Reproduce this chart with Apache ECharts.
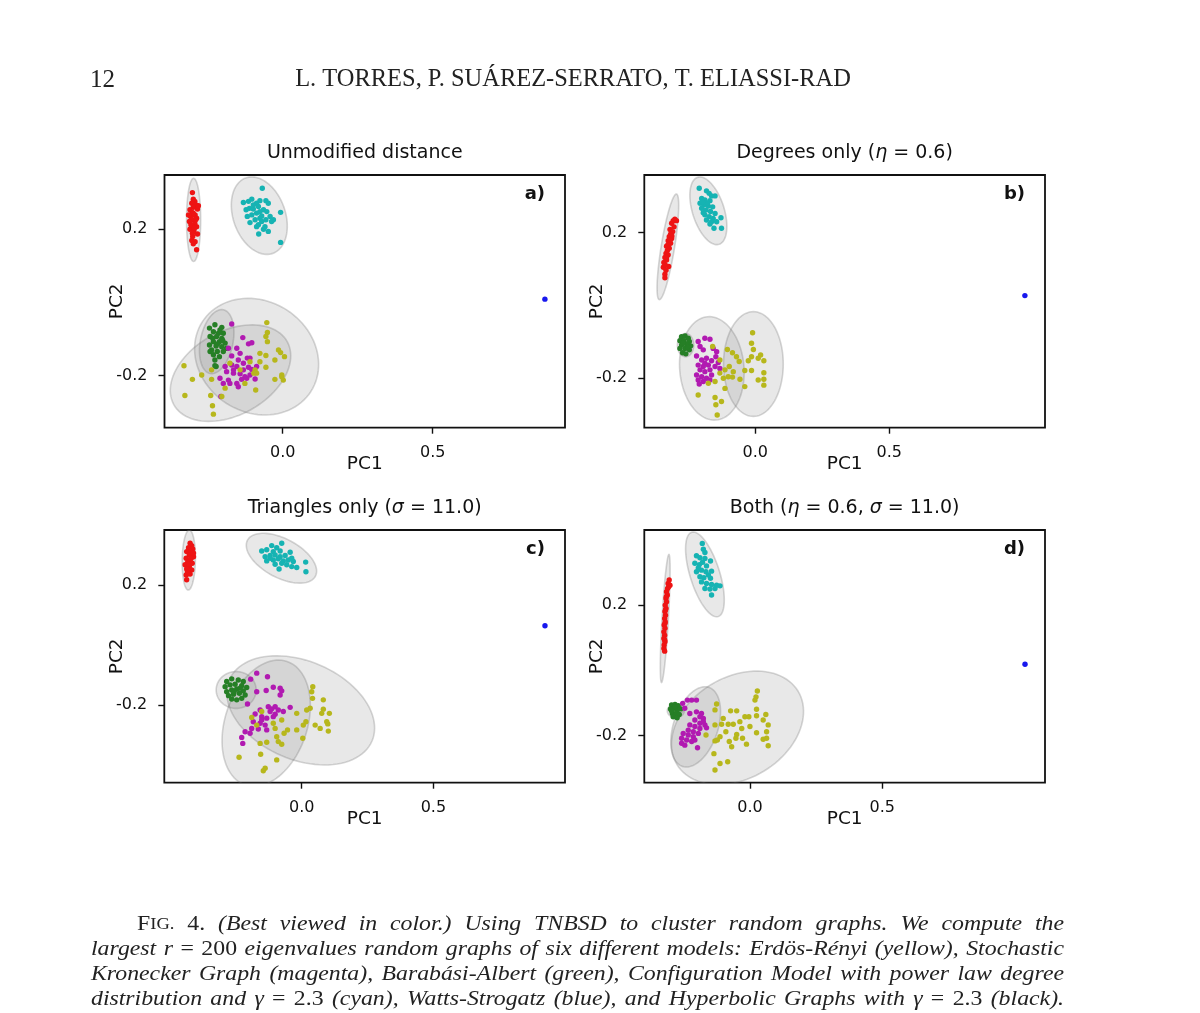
<!DOCTYPE html>
<html><head><meta charset="utf-8">
<script src="https://cdn.jsdelivr.net/npm/echarts@6/dist/echarts.min.js"></script>
<style>html,body{margin:0;padding:0;background:#fff}#c{width:1200px;height:1013px}</style>
</head><body><div id="c"></div>
<script>
// ---------- tick values / labels ----------
const xTicks = [0.0, 0.5];
const yTicks = [-0.2, 0.2];
const panelTitles = ['Unmodified distance', 'Degrees only (η = 0.6)', 'Triangles only (σ = 11.0)', 'Both (η = 0.6, σ = 11.0)'];
const panelTags = ['a)', 'b)', 'c)', 'd)'];
const xRanges = [[-0.394, 0.941], [-0.414, 1.081], [-0.522, 1.000], [-0.399, 1.1145]];
const yRanges = [[-0.342, 0.348], [-0.336, 0.3585], [-0.459, 0.383], [-0.344, 0.430]];

// ---------- panel a ----------
const redA = [[-0.301,0.300],[-0.298,0.282],[-0.293,0.276],[-0.303,0.271],[-0.289,0.266],[-0.298,0.260],[-0.309,0.253],[-0.284,0.255],[-0.302,0.246],[-0.292,0.239],[-0.307,0.235],[-0.287,0.230],[-0.300,0.226],[-0.311,0.221],[-0.293,0.216],[-0.303,0.209],[-0.287,0.207],[-0.309,0.200],[-0.296,0.196],[-0.284,0.187],[-0.300,0.180],[-0.303,0.169],[-0.292,0.166],[-0.298,0.160],[-0.287,0.144],[-0.298,0.244],[-0.290,0.226],[-0.306,0.212],[-0.294,0.203],[-0.301,0.189],[-0.281,0.264],[-0.314,0.239]];
const cyanA = [[-0.068,0.312],[-0.131,0.273],[-0.114,0.276],[-0.103,0.282],[-0.087,0.271],[-0.076,0.278],[-0.056,0.278],[-0.048,0.271],[-0.122,0.253],[-0.111,0.257],[-0.098,0.255],[-0.081,0.262],[-0.064,0.253],[-0.053,0.248],[-0.007,0.246],[-0.118,0.235],[-0.103,0.239],[-0.087,0.244],[-0.076,0.230],[-0.092,0.226],[-0.070,0.221],[-0.056,0.226],[-0.042,0.235],[-0.031,0.226],[-0.109,0.218],[-0.081,0.212],[-0.064,0.200],[-0.048,0.194],[-0.080,0.187],[-0.007,0.164],[-0.037,0.221],[-0.098,0.266],[-0.076,0.248],[-0.059,0.207],[-0.087,0.207],[-0.070,0.236]];
const greenA = [[-0.244,-0.070],[-0.226,-0.061],[-0.203,-0.068],[-0.231,-0.080],[-0.214,-0.084],[-0.198,-0.084],[-0.242,-0.093],[-0.220,-0.093],[-0.203,-0.098],[-0.231,-0.107],[-0.211,-0.107],[-0.192,-0.111],[-0.244,-0.116],[-0.222,-0.119],[-0.203,-0.121],[-0.237,-0.130],[-0.218,-0.134],[-0.198,-0.134],[-0.231,-0.143],[-0.211,-0.148],[-0.226,-0.157],[-0.222,-0.175],[-0.187,-0.125],[-0.209,-0.075],[-0.233,-0.098],[-0.217,-0.113],[-0.200,-0.104],[-0.242,-0.134],[-0.226,-0.173]];
const magentaA = [[-0.170,-0.059],[-0.133,-0.096],[-0.114,-0.113],[-0.103,-0.110],[-0.181,-0.125],[-0.153,-0.125],[-0.142,-0.139],[-0.170,-0.146],[-0.148,-0.157],[-0.118,-0.152],[-0.109,-0.152],[-0.192,-0.175],[-0.170,-0.171],[-0.153,-0.175],[-0.131,-0.166],[-0.114,-0.177],[-0.103,-0.183],[-0.087,-0.175],[-0.187,-0.189],[-0.164,-0.193],[-0.142,-0.195],[-0.126,-0.203],[-0.109,-0.198],[-0.209,-0.207],[-0.181,-0.212],[-0.153,-0.221],[-0.137,-0.210],[-0.120,-0.207],[-0.092,-0.209],[-0.198,-0.221],[-0.176,-0.221],[-0.148,-0.230],[-0.206,-0.257],[-0.164,-0.184],[-0.131,-0.184]];
const yellowA = [[-0.053,-0.055],[-0.051,-0.082],[-0.056,-0.093],[-0.051,-0.107],[-0.076,-0.139],[-0.056,-0.145],[-0.014,-0.130],[-0.007,-0.137],[-0.026,-0.157],[0.006,-0.148],[-0.056,-0.177],[-0.087,-0.193],[-0.076,-0.162],[-0.092,-0.184],[-0.003,-0.198],[-0.026,-0.210],[0.002,-0.212],[-0.003,-0.203],[-0.090,-0.239],[-0.329,-0.173],[-0.301,-0.210],[-0.326,-0.254],[-0.240,-0.254],[-0.234,-0.282],[-0.231,-0.305],[-0.270,-0.198],[-0.237,-0.184],[-0.237,-0.210],[-0.192,-0.234],[-0.203,-0.257],[-0.176,-0.166],[-0.142,-0.184],[-0.109,-0.162],[-0.126,-0.221],[-0.096,-0.193]];
const blueA = [[0.874,0.009]];
// ellipse: [centerX, centerY, majorEndX, majorEndY, minor/major ratio]
const ellipsesA = [[-0.297,0.2255,-0.297,0.339,0.17],[-0.078,0.237,-0.123,0.340,0.65],[-0.087,-0.148,0.094,-0.243,0.862],[-0.174,-0.193,0.015,-0.107,0.645],[-0.220,-0.107,-0.198,-0.020,0.5]];

// ---------- panel b ----------
const redB = [[-0.300,0.237],[-0.306,0.233],[-0.294,0.233],[-0.312,0.226],[-0.303,0.216],[-0.318,0.209],[-0.308,0.203],[-0.316,0.196],[-0.321,0.189],[-0.312,0.184],[-0.325,0.178],[-0.316,0.171],[-0.331,0.163],[-0.321,0.157],[-0.328,0.151],[-0.333,0.143],[-0.325,0.139],[-0.337,0.132],[-0.331,0.125],[-0.341,0.118],[-0.323,0.107],[-0.343,0.105],[-0.333,0.097],[-0.337,0.086],[-0.337,0.076],[-0.311,0.191],[-0.326,0.166],[-0.336,0.111],[-0.318,0.180],[-0.331,0.132]];
const cyanB = [[-0.209,0.322],[-0.182,0.315],[-0.172,0.308],[-0.163,0.301],[-0.150,0.301],[-0.200,0.294],[-0.188,0.290],[-0.169,0.288],[-0.206,0.281],[-0.192,0.276],[-0.175,0.273],[-0.159,0.271],[-0.200,0.267],[-0.184,0.262],[-0.167,0.258],[-0.150,0.253],[-0.188,0.249],[-0.172,0.244],[-0.157,0.239],[-0.128,0.241],[-0.182,0.235],[-0.163,0.230],[-0.144,0.230],[-0.169,0.224],[-0.154,0.212],[-0.126,0.212],[-0.194,0.255],[-0.178,0.282],[-0.197,0.285]];
const greenB = [[-0.275,-0.086],[-0.262,-0.084],[-0.250,-0.090],[-0.281,-0.097],[-0.266,-0.097],[-0.246,-0.099],[-0.275,-0.109],[-0.256,-0.106],[-0.241,-0.111],[-0.281,-0.118],[-0.262,-0.118],[-0.246,-0.122],[-0.271,-0.130],[-0.259,-0.133],[-0.269,-0.104],[-0.252,-0.115]];
const magentaB = [[-0.213,-0.099],[-0.188,-0.090],[-0.169,-0.093],[-0.206,-0.113],[-0.194,-0.122],[-0.157,-0.118],[-0.144,-0.127],[-0.219,-0.139],[-0.200,-0.150],[-0.182,-0.145],[-0.163,-0.152],[-0.138,-0.157],[-0.213,-0.164],[-0.194,-0.168],[-0.175,-0.164],[-0.150,-0.168],[-0.132,-0.173],[-0.206,-0.177],[-0.188,-0.182],[-0.169,-0.177],[-0.219,-0.191],[-0.200,-0.196],[-0.182,-0.200],[-0.163,-0.191],[-0.213,-0.205],[-0.194,-0.209],[-0.169,-0.205],[-0.209,-0.216],[-0.147,-0.141],[-0.188,-0.159]];
const yellowB = [[-0.010,-0.075],[-0.014,-0.104],[-0.007,-0.121],[-0.104,-0.121],[-0.085,-0.130],[-0.014,-0.141],[0.020,-0.136],[0.011,-0.145],[0.032,-0.152],[-0.026,-0.152],[-0.060,-0.154],[-0.132,-0.150],[-0.097,-0.168],[-0.082,-0.182],[-0.113,-0.177],[-0.119,-0.200],[-0.101,-0.196],[-0.085,-0.197],[-0.057,-0.203],[-0.039,-0.179],[-0.014,-0.179],[0.032,-0.185],[0.011,-0.205],[0.032,-0.203],[0.032,-0.219],[-0.039,-0.223],[-0.113,-0.228],[-0.150,-0.209],[-0.213,-0.246],[-0.150,-0.253],[-0.126,-0.264],[-0.147,-0.273],[-0.142,-0.301],[-0.159,-0.113],[-0.175,-0.214],[-0.132,-0.186],[-0.070,-0.141]];
const blueB = [[1.006,0.027]];
const ellipsesB = [[-0.326,0.161,-0.294,0.306,0.125],[-0.175,0.260,-0.215,0.352,0.45],[-0.260,-0.109,-0.260,-0.077,0.7],[-0.162,-0.173,-0.178,-0.031,0.62],[-0.007,-0.161,-0.007,-0.017,0.57]];

// ---------- panel c ----------
const redC = [[-0.424,0.339],[-0.418,0.331],[-0.430,0.324],[-0.414,0.320],[-0.437,0.311],[-0.422,0.309],[-0.427,0.300],[-0.411,0.294],[-0.439,0.289],[-0.424,0.283],[-0.433,0.276],[-0.416,0.272],[-0.443,0.267],[-0.427,0.261],[-0.437,0.253],[-0.418,0.250],[-0.430,0.242],[-0.439,0.233],[-0.424,0.236],[-0.437,0.217],[-0.411,0.306],[-0.420,0.289],[-0.429,0.269],[-0.434,0.244]];
const cyanC = [[-0.076,0.339],[-0.114,0.331],[-0.095,0.324],[-0.152,0.313],[-0.133,0.317],[-0.108,0.311],[-0.082,0.313],[-0.044,0.309],[-0.139,0.294],[-0.120,0.298],[-0.101,0.300],[-0.082,0.294],[-0.063,0.298],[-0.133,0.280],[-0.108,0.283],[-0.089,0.287],[-0.070,0.280],[-0.038,0.289],[-0.101,0.269],[-0.076,0.272],[-0.057,0.267],[-0.038,0.261],[-0.019,0.258],[0.015,0.276],[0.016,0.244],[-0.086,0.253],[-0.032,0.278],[-0.120,0.289],[-0.051,0.283]];
const greenC = [[-0.285,-0.122],[-0.266,-0.113],[-0.241,-0.117],[-0.222,-0.122],[-0.291,-0.139],[-0.272,-0.133],[-0.253,-0.131],[-0.228,-0.136],[-0.209,-0.142],[-0.285,-0.156],[-0.266,-0.150],[-0.247,-0.147],[-0.222,-0.153],[-0.278,-0.169],[-0.259,-0.164],[-0.237,-0.161],[-0.215,-0.167],[-0.266,-0.180],[-0.247,-0.183],[-0.228,-0.178],[-0.234,-0.144],[-0.257,-0.156]];
const magentaC = [[-0.171,-0.094],[-0.130,-0.106],[-0.194,-0.114],[-0.108,-0.141],[-0.082,-0.144],[-0.135,-0.152],[-0.171,-0.156],[-0.076,-0.153],[-0.082,-0.167],[-0.206,-0.197],[-0.127,-0.206],[-0.101,-0.206],[-0.089,-0.217],[-0.070,-0.222],[-0.044,-0.208],[-0.158,-0.217],[-0.120,-0.222],[-0.101,-0.231],[-0.177,-0.230],[-0.152,-0.239],[-0.133,-0.244],[-0.108,-0.239],[-0.184,-0.256],[-0.158,-0.261],[-0.139,-0.267],[-0.190,-0.278],[-0.165,-0.280],[-0.133,-0.283],[-0.215,-0.289],[-0.196,-0.294],[-0.228,-0.308],[-0.224,-0.328],[-0.152,-0.250],[-0.114,-0.213]];
const yellowC = [[0.042,-0.139],[0.038,-0.156],[0.082,-0.183],[0.041,-0.178],[0.032,-0.211],[0.082,-0.214],[0.105,-0.228],[-0.019,-0.228],[0.019,-0.217],[0.076,-0.228],[0.095,-0.256],[0.099,-0.263],[0.051,-0.267],[0.070,-0.278],[0.016,-0.256],[0.006,-0.267],[-0.019,-0.283],[-0.054,-0.283],[-0.067,-0.294],[-0.095,-0.306],[-0.089,-0.322],[-0.076,-0.331],[-0.152,-0.222],[-0.108,-0.261],[-0.076,-0.250],[-0.101,-0.278],[-0.158,-0.328],[-0.133,-0.324],[0.004,-0.311],[0.101,-0.287],[-0.238,-0.374],[-0.156,-0.364],[-0.095,-0.383],[-0.139,-0.411],[-0.146,-0.419],[-0.190,-0.242],[-0.171,-0.267]];
const blueC = [[0.924,0.064]];
const ellipsesC = [[-0.429,0.283,-0.427,0.383,0.22],[-0.077,0.289,0.052,0.229,0.507],[-0.249,-0.150,-0.173,-0.150,0.92],[-0.004,-0.218,0.267,-0.320,0.633],[-0.135,-0.261,-0.056,-0.055,0.63]];

// ---------- panel d ----------
const redD = [[-0.305,0.277],[-0.309,0.266],[-0.302,0.261],[-0.311,0.251],[-0.315,0.241],[-0.312,0.231],[-0.317,0.220],[-0.315,0.210],[-0.320,0.200],[-0.317,0.190],[-0.321,0.180],[-0.319,0.169],[-0.322,0.159],[-0.320,0.149],[-0.324,0.139],[-0.321,0.129],[-0.325,0.118],[-0.322,0.108],[-0.325,0.098],[-0.321,0.088],[-0.324,0.078],[-0.325,0.067],[-0.322,0.059],[-0.307,0.256],[-0.316,0.226],[-0.319,0.185],[-0.321,0.144],[-0.322,0.093]];
const cyanD = [[-0.180,0.389],[-0.176,0.371],[-0.170,0.361],[-0.202,0.351],[-0.189,0.345],[-0.170,0.343],[-0.149,0.335],[-0.208,0.328],[-0.191,0.324],[-0.179,0.331],[-0.164,0.320],[-0.202,0.302],[-0.183,0.307],[-0.166,0.302],[-0.145,0.304],[-0.189,0.287],[-0.174,0.284],[-0.149,0.282],[-0.183,0.271],[-0.164,0.266],[-0.145,0.263],[-0.126,0.261],[-0.113,0.259],[-0.170,0.251],[-0.151,0.249],[-0.132,0.251],[-0.145,0.231],[-0.195,0.314],[-0.157,0.292]];
const greenD = [[-0.296,-0.106],[-0.283,-0.104],[-0.271,-0.108],[-0.300,-0.118],[-0.287,-0.116],[-0.275,-0.121],[-0.262,-0.118],[-0.293,-0.132],[-0.280,-0.132],[-0.267,-0.135],[-0.290,-0.142],[-0.275,-0.145],[-0.283,-0.111],[-0.296,-0.124]];
const magentaD = [[-0.254,-0.101],[-0.236,-0.091],[-0.220,-0.091],[-0.202,-0.091],[-0.246,-0.116],[-0.227,-0.132],[-0.202,-0.127],[-0.183,-0.132],[-0.189,-0.142],[-0.176,-0.147],[-0.208,-0.152],[-0.189,-0.162],[-0.170,-0.167],[-0.164,-0.176],[-0.227,-0.167],[-0.208,-0.172],[-0.189,-0.178],[-0.233,-0.183],[-0.214,-0.188],[-0.195,-0.193],[-0.252,-0.193],[-0.233,-0.198],[-0.214,-0.203],[-0.258,-0.208],[-0.239,-0.213],[-0.220,-0.218],[-0.258,-0.223],[-0.246,-0.229],[-0.198,-0.237],[-0.208,-0.213],[-0.176,-0.157]];
const yellowD = [[0.028,-0.063],[0.023,-0.081],[0.019,-0.091],[-0.126,-0.103],[-0.132,-0.121],[-0.073,-0.124],[-0.050,-0.124],[0.025,-0.119],[-0.101,-0.147],[-0.019,-0.142],[-0.004,-0.142],[0.025,-0.139],[0.060,-0.135],[0.050,-0.152],[-0.132,-0.167],[-0.107,-0.165],[-0.082,-0.165],[-0.063,-0.165],[0.069,-0.167],[0.000,-0.172],[0.025,-0.191],[0.063,-0.188],[-0.031,-0.178],[-0.050,-0.196],[-0.053,-0.208],[-0.113,-0.203],[-0.132,-0.216],[-0.123,-0.213],[0.063,-0.208],[0.050,-0.211],[-0.028,-0.208],[-0.013,-0.226],[-0.078,-0.218],[-0.069,-0.234],[0.069,-0.231],[-0.136,-0.255],[-0.113,-0.285],[-0.084,-0.280],[-0.132,-0.305],[-0.166,-0.198],[-0.038,-0.157],[-0.091,-0.188]];
const blueD = [[1.039,0.019]];
const ellipsesD = [[-0.320,0.159,-0.306,0.355,0.05],[-0.170,0.294,-0.220,0.423,0.335],[-0.280,-0.124,-0.248,-0.124,0.8],[-0.205,-0.173,-0.155,-0.052,0.533],[-0.047,-0.176,0.182,-0.064,0.716]];

// ---------- caption / header text ----------
const headerNumber = '12';
const headerAuthors = 'L. TORRES, P. SUÁREZ-SERRATO, T. ELIASSI-RAD';
const captionLines = [
  ['FIG.', '§4.', '(Best', 'viewed', 'in', 'color.)', 'Using', 'TNBSD', 'to', 'cluster', 'random', 'graphs.', 'We', 'compute', 'the'],
  ['largest', 'r', '§=', '§200', 'eigenvalues', 'random', 'graphs', 'of', 'six', 'different', 'models:', 'Erdös-Rényi', '(yellow),', 'Stochastic'],
  ['Kronecker', 'Graph', '(magenta),', 'Barabási-Albert', '(green),', 'Configuration', 'Model', 'with', 'power', 'law', 'degree'],
  ['distribution', 'and', 'γ', '§=', '§2.3', '(cyan),', 'Watts-Strogatz', '(blue),', 'and', 'Hyperbolic', 'Graphs', 'with', 'γ', '§=', '§2.3', '(black).']
];

// ---------- build ----------
const SANS = "'DejaVu Sans', sans-serif";
const SERIF = "'Liberation Serif', 'DejaVu Serif', serif";
const colors = {red:'#ee1414', cyan:'#16b3b3', green:'#267f26', magenta:'#b11ab1', yellow:'#b7b71c', blue:'#1818ee'};
const panelSeries = [
  {red:redA, cyan:cyanA, green:greenA, magenta:magentaA, yellow:yellowA, blue:blueA, ell:ellipsesA},
  {red:redB, cyan:cyanB, green:greenB, magenta:magentaB, yellow:yellowB, blue:blueB, ell:ellipsesB},
  {red:redC, cyan:cyanC, green:greenC, magenta:magentaC, yellow:yellowC, blue:blueC, ell:ellipsesC},
  {red:redD, cyan:cyanD, green:greenD, magenta:magentaD, yellow:yellowD, blue:blueD, ell:ellipsesD}
];
const gridBoxes = [[164.5,175,400.5,252.7],[644.3,175,400.7,252.7],[164.3,530,400.7,252.7],[644.3,530,400.7,252.7]];

const grids = [], xAxes = [], yAxes = [], series = [], graphics = [];
gridBoxes.forEach((g, i) => {
  grids.push({left:g[0], top:g[1], width:g[2], height:g[3], show:true, borderColor:'#111', borderWidth:1.8, backgroundColor:'transparent'});
  xAxes.push({type:'value', gridIndex:i, min:xRanges[i][0], max:xRanges[i][1], position:'bottom',
    axisLine:{show:false, onZero:false}, splitLine:{show:false},
    axisTick:{show:true, length:6, customValues:xTicks, lineStyle:{color:'#111', width:1.4}},
    axisLabel:{customValues:xTicks, formatter:v=>v.toFixed(1), fontSize:16, color:'#111', fontFamily:SANS, margin:17},
    name:'PC1', nameLocation:'middle', nameGap:27, nameMoveOverlap:false,
    nameTextStyle:{fontSize:18.5, color:'#111', fontFamily:SANS}});
  yAxes.push({type:'value', gridIndex:i, min:yRanges[i][0], max:yRanges[i][1], position:'left',
    axisLine:{show:false, onZero:false}, splitLine:{show:false},
    axisTick:{show:true, length:6, customValues:yTicks, lineStyle:{color:'#111', width:1.4}},
    axisLabel:{customValues:yTicks, formatter:v=>v.toFixed(1), fontSize:16, color:'#111', fontFamily:SANS, margin:17},
    name:'PC2', nameLocation:'middle', nameGap:38, nameMoveOverlap:false,
    nameTextStyle:{fontSize:18.5, color:'#111', fontFamily:SANS}});
  const ps = panelSeries[i];
  series.push({type:'custom', xAxisIndex:i, yAxisIndex:i, clip:true, z:1, silent:true, data:ps.ell,
    renderItem:(params, api) => {
      const c = api.coord([api.value(0), api.value(1)]);
      const e = api.coord([api.value(2), api.value(3)]);
      const dx = e[0]-c[0], dy = e[1]-c[1];
      const a = Math.hypot(dx, dy), ang = Math.atan2(dy, dx), b = a*api.value(4);
      const pts = [];
      for (let k = 0; k < 96; k++) {
        const t = k/96*Math.PI*2;
        pts.push([c[0] + a*Math.cos(t)*Math.cos(ang) - b*Math.sin(t)*Math.sin(ang),
                  c[1] + a*Math.cos(t)*Math.sin(ang) + b*Math.sin(t)*Math.cos(ang)]);
      }
      return {type:'polygon', shape:{points:pts}, style:{fill:'rgba(128,128,128,0.18)', stroke:'rgba(120,120,120,0.3)', lineWidth:1.6}};
    }});
  ['red','cyan','green','magenta','yellow','blue'].forEach(k => {
    series.push({type:'scatter', xAxisIndex:i, yAxisIndex:i, z:3, silent:true, symbol:'circle', symbolSize:5.4,
      itemStyle:{color:colors[k], opacity:1}, data:ps[k]});
  });
  const tx = g[0] + g[2]/2, ty = g[1] - 22;
  graphics.push({type:'text', x:tx, y:ty, silent:true, style:{
    text: panelTitles[i].replace(/([ησ])/g, '{i|$1}'),
    rich:{i:{fontStyle:'italic', fontSize:19, fontFamily:SANS, fill:'#111'}},
    fontSize:19, fontFamily:SANS, fill:'#111', align:'center', verticalAlign:'middle', textAlign:'center', textVerticalAlign:'middle'}});
  graphics.push({type:'text', x:g[0]+g[2]-20, y:g[1]+19, silent:true, style:{
    text: panelTags[i], fontSize:18, fontWeight:'bold', fontFamily:SANS, fill:'#111',
    align:'right', verticalAlign:'middle', textAlign:'right', textVerticalAlign:'middle'}});
});

// text measurement for header and justified caption
const mctx = document.createElement('canvas').getContext('2d');
function mw(font, s){ mctx.font = font; return mctx.measureText(s).width; }

graphics.push({type:'text', x:90, y:80, silent:true, style:{text:headerNumber, fontSize:25, fontFamily:SERIF, fill:'#222',
  align:'left', verticalAlign:'middle', textAlign:'left', textVerticalAlign:'middle'}});
const hfs = 20 * 556 / mw("20px 'Liberation Serif'", headerAuthors);
graphics.push({type:'text', x:573, y:80, silent:true, style:{text:headerAuthors, fontSize:hfs, fontFamily:SERIF, fill:'#222',
  align:'center', verticalAlign:'middle', textAlign:'center', textVerticalAlign:'middle'}});

const CFS = 20.5;
const lineStart = [137, 91, 91, 91];
const lineY = [925, 950, 975, 1000];
const lineEnd = 1064;
const minGap = 7.5;
const lineItems = captionLines.map(words => words.map(w => {
  if (w === 'FIG.') {
    const wd = mw(CFS + "px 'Liberation Serif'", 'F') + mw((CFS*0.78) + "px 'Liberation Serif'", 'IG.');
    return {width: wd, style:{text:'{a|F}{b|IG.}', rich:{a:{fontSize:CFS, fontFamily:SERIF, fill:'#222'}, b:{fontSize:CFS*0.78, fontFamily:SERIF, fill:'#222'}}}};
  }
  const up = w.startsWith('§');
  const t = up ? w.slice(1) : w;
  const font = (up ? '' : 'italic ') + CFS + "px 'Liberation Serif'";
  return {width: mw(font, t), style:{text:t, fontSize:CFS, fontFamily:SERIF, fontStyle: up ? 'normal' : 'italic', fill:'#222'}};
}));
let sx = Infinity;
lineItems.forEach((items, li) => {
  const nat = items.reduce((s, it) => s + it.width, 0);
  sx = Math.min(sx, (lineEnd - lineStart[li] - minGap*(items.length-1)) / nat);
});
lineItems.forEach((items, li) => {
  const total = items.reduce((s, it) => s + it.width*sx, 0);
  const gap = (lineEnd - lineStart[li] - total) / (items.length - 1);
  let x = lineStart[li];
  items.forEach(it => {
    graphics.push({type:'text', x:x, y:lineY[li], scaleX:sx, scaleY:1, silent:true,
      style:Object.assign({align:'left', verticalAlign:'middle', textAlign:'left', textVerticalAlign:'middle'}, it.style)});
    x += it.width*sx + gap;
  });
});

const chart = echarts.init(document.getElementById('c'), null, {renderer:'canvas'});
chart.setOption({
  animation:false, backgroundColor:'#fff',
  grid:grids, xAxis:xAxes, yAxis:yAxes, series:series, graphic:{elements:graphics}
});
</script>
</body></html>
